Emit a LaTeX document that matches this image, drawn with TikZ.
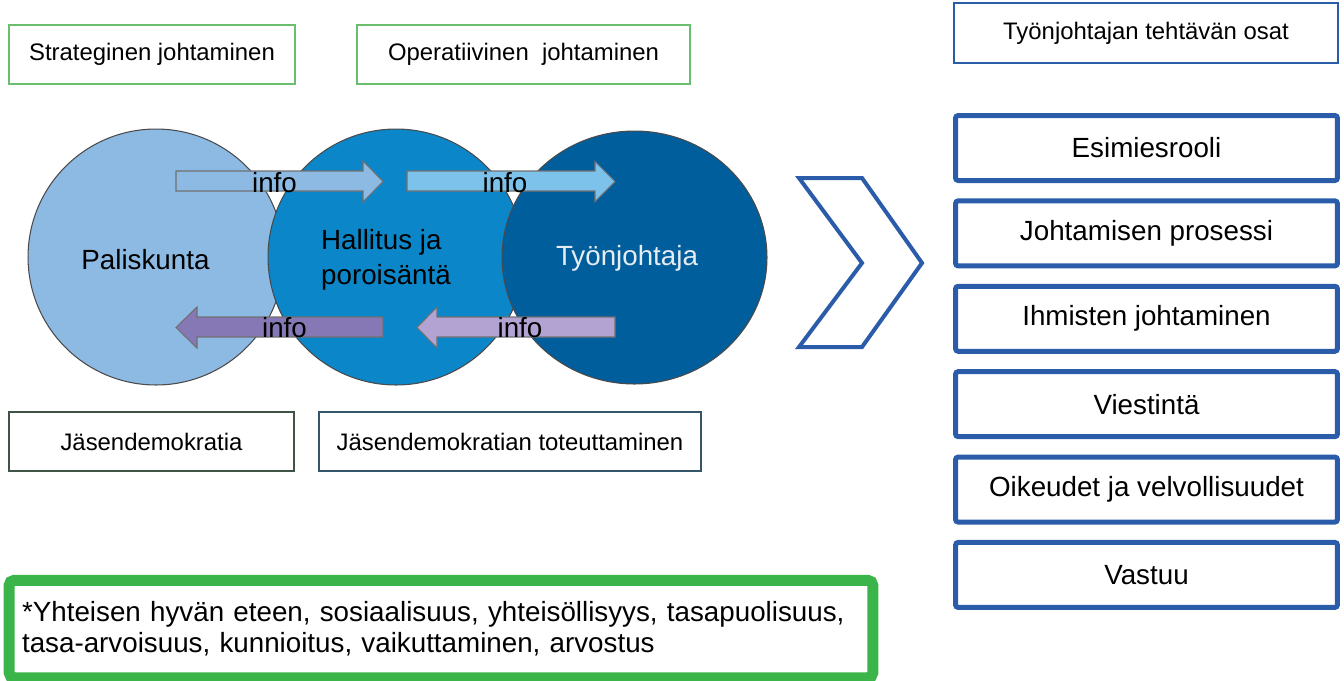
\documentclass[tikz,border=0pt]{standalone}
\usepackage{fontspec}
\setmainfont{Liberation Sans}
\usetikzlibrary{shapes.geometric,positioning}
\definecolor{StratGreen}{HTML}{6ABF6E}
\definecolor{ArvoGreen}{HTML}{3BB54A}
\definecolor{DemoGray}{HTML}{3F5445}
\definecolor{DemoTeal}{HTML}{35566A}
\definecolor{OsaBlue}{HTML}{2A5CAA}
\definecolor{PalBlue}{HTML}{8DBAE3}
\definecolor{HalBlue}{HTML}{0B86C9}
\definecolor{TyoBlue}{HTML}{005E9C}
\definecolor{TyoText}{HTML}{E6ECF2}
\definecolor{CircEdge}{HTML}{4A4A4A}
\definecolor{ArrEdge}{HTML}{707070}
\definecolor{InfoA}{HTML}{8DBAE3}
\definecolor{InfoB}{HTML}{7CC2EA}
\definecolor{InfoC}{HTML}{8677B5}
\definecolor{InfoD}{HTML}{B3A3D3}
\tikzset{
  % Label box
  LB/.style={rectangle,draw,line width=0.04cm,fill=white,
             minimum height=1.18cm,inner sep=0pt,
             font=\fontsize{13.6}{16}\selectfont},
  lG/.style={LB,draw=StratGreen},
  lD/.style={LB,draw=DemoGray},
  lO/.style={LB,draw=OsaBlue},
  % Task box
  OB/.style={rectangle,rounded corners=1.5pt,draw=OsaBlue,line width=0.1cm,
             minimum width=7.64cm,minimum height=1.3cm,outer sep=0pt,
             font=\fontsize{15.8}{19}\selectfont},
  % Value box
  AV/.style={rectangle,rounded corners=3pt,draw=ArvoGreen,line width=0.22cm,
             minimum width=17.28cm,minimum height=1.95cm,
             text width=16.76cm,inner xsep=0.26cm,align=left,
             font=\fontsize{15.8}{17.8}\selectfont},
  % Circle
  CR/.style={circle,draw=CircEdge,line width=0.6pt,minimum size=5.12cm,inner sep=0pt},
  % Block arrow
  BA/.style={draw=ArrEdge,line width=0.6pt},
  % Chevron
  CV/.style={draw=OsaBlue,line width=0.08cm,line join=miter},
  % Text
  TX/.style={font=\fontsize{15.8}{19.8}\selectfont,inner sep=0pt}
}
\begin{document}
\begin{tikzpicture}[x=0.02cm,y=-0.02cm]
  \useasboundingbox (0,0) rectangle (1344,680);

  % Circles
  \node[CR,fill=PalBlue] (pal) at (156,257) {};
  \node[CR,fill=HalBlue] (hal) at (396,257) {};
  \node[CR,ellipse,fill=TyoBlue,minimum width=5.3cm,minimum height=5.06cm] (tyo) at (634.5,257.5) {};
  \node[TX]                (paltxt) at (145.5,260) {Paliskunta};
  \node[TX,align=left]     (haltxt) at (386,259.5) {Hallitus ja\\poroisäntä};
  \node[TX,text=TyoText]   (tyotxt) at (627,258)   {Työnjohtaja};

  % Info arrows
  \filldraw[BA,fill=InfoA] (176,171) -- (363,171) -- (363,161) -- (383,181.5) -- (363,202) -- (363,191) -- (176,191) -- cycle;
  \filldraw[BA,fill=InfoB] (407,171) -- (595,171) -- (595,161.5) -- (615,181.5) -- (595,201.5) -- (595,191) -- (407,191) -- cycle;
  \filldraw[BA,fill=InfoC] (383,317) -- (197,317) -- (197,307) -- (176,327.5) -- (197,348) -- (197,337) -- (383,337) -- cycle;
  \filldraw[BA,fill=InfoD] (615,317) -- (437,317) -- (437,307) -- (417,327.5) -- (437,348) -- (437,337) -- (615,337) -- cycle;
  \node[TX] (info1) at (274.5,183) {info};
  \node[TX] (info2) at (505,183)   {info};
  \node[TX] (info3) at (284.5,328) {info};
  \node[TX] (info4) at (520,328)   {info};

  % Label boxes
  \node[lG,minimum width=5.72cm] (strat) at (152,54.5)    {Strateginen johtaminen};
  \node[lG,minimum width=6.66cm] (oper)  at (523.5,54.5)  {Operatiivinen\ \ johtaminen};
  \node[lD,minimum width=5.7cm]  (jd)    at (151.5,441.5) {Jäsendemokratia};
  \node[lD,draw=DemoTeal,minimum width=7.64cm] (jdt) at (510,441.5) {Jäsendemokratian toteuttaminen};

  % Chevron
  \draw[CV] (799,178) -- (862,178) -- (922,263) -- (862,347) -- (799,347) -- (862,263) -- cycle;

  % Task parts
  \node[lO,minimum width=7.68cm,minimum height=1.2cm] (osat) at (1146,33) {Työnjohtajan tehtävän osat};
  \node[OB]                       (esim)   at (1146.5,148) {Esimiesrooli};
  \node[OB,below=0.408cm of esim]   (proses) {Johtamisen prosessi};
  \node[OB,below=0.408cm of proses] (ihm)    {Ihmisten johtaminen};
  \node[OB,below=0.408cm of ihm]    (viest)  {Viestintä};
  \node[OB,below=0.408cm of viest]  (oik)    {Oikeudet ja velvollisuudet};
  \node[OB,below=0.408cm of oik]    (vast)   {Vastuu};

  % Values
  \node[AV] (arvot) at (441,629) {*Yhteisen hyvän eteen, sosiaalisuus, yhteisöllisyys, tasapuolisuus,\\tasa-arvoisuus, kunnioitus, vaikuttaminen, arvostus};
\end{tikzpicture}
\end{document}
